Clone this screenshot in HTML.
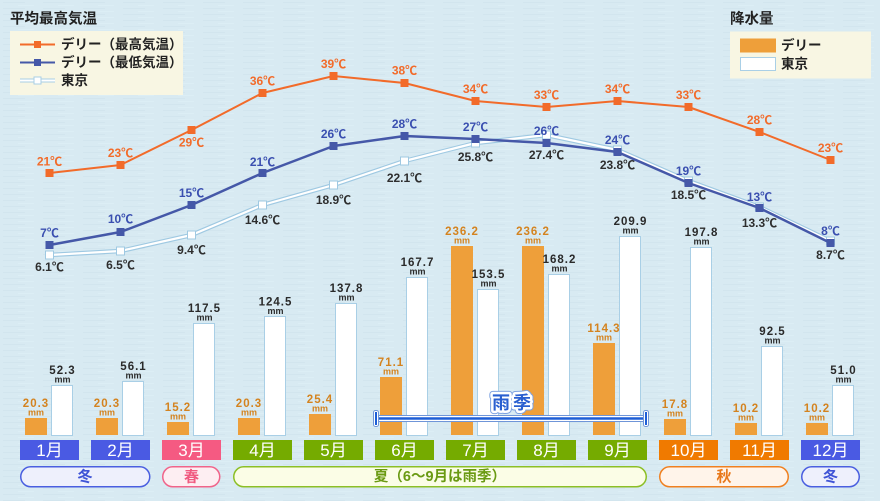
<!DOCTYPE html>
<html>
<head>
<meta charset="utf-8">
<style>
html,body{margin:0;padding:0;background:#d8eaf2;}
svg{display:block;}
text{font-family:"Liberation Sans","Noto Sans CJK JP",sans-serif;}
</style>
</head>
<body>
<svg width="880" height="501" viewBox="0 0 880 501" xmlns="http://www.w3.org/2000/svg">
<defs>
<pattern id="bg" width="40" height="6" patternUnits="userSpaceOnUse">
<rect width="40" height="6" fill="#d8eaf2"/>
<rect x="3" y="2" width="22" height="1" fill="#d2e5ee"/>
<rect x="18" y="5" width="16" height="1" fill="#dceef5"/>
</pattern>
</defs>
<rect width="880" height="501" fill="url(#bg)"/>

<!-- Left legend -->
<text x="10" y="19.5" font-size="14.5" font-weight="bold" fill="#222" dominant-baseline="central">平均最高気温</text>
<rect x="10" y="31" width="173" height="64" fill="#f8f6e3"/>
<line x1="20" y1="44.5" x2="55" y2="44.5" stroke="#f26b2a" stroke-width="2"/>
<rect x="34" y="41" width="7" height="7" fill="#f26b2a"/>
<text x="61" y="44.5" font-size="13.5" font-weight="bold" fill="#222" dominant-baseline="central">デリー（最高気温）</text>
<line x1="20" y1="62.5" x2="55" y2="62.5" stroke="#4558a8" stroke-width="2"/>
<rect x="34" y="59" width="7" height="7" fill="#4558a8"/>
<text x="61" y="62.5" font-size="13.5" font-weight="bold" fill="#222" dominant-baseline="central">デリー（最低気温）</text>
<line x1="20" y1="80.5" x2="55" y2="80.5" stroke="#a9cfe6" stroke-width="4"/>
<line x1="20" y1="80.5" x2="55" y2="80.5" stroke="#fff" stroke-width="2"/>
<rect x="34" y="77" width="7" height="7" fill="#fff" stroke="#a9cfe6" stroke-width="1"/>
<text x="61" y="80.5" font-size="13.5" font-weight="bold" fill="#222" dominant-baseline="central">東京</text>

<!-- Right legend -->
<text x="730" y="19.5" font-size="14.5" font-weight="bold" fill="#222" dominant-baseline="central">降水量</text>
<rect x="730" y="31.5" width="141" height="47" fill="#f8f6e3"/>
<rect x="740" y="38.5" width="36" height="14" fill="#ee9f3a"/>
<text x="781" y="45.5" font-size="13.5" font-weight="bold" fill="#222" dominant-baseline="central">デリー</text>
<rect x="740.5" y="57.5" width="35" height="13" fill="#fff" stroke="#a9cfe6" stroke-width="1"/>
<text x="781" y="64" font-size="13.5" font-weight="bold" fill="#222" dominant-baseline="central">東京</text>

<!-- Bars: Delhi (orange) -->
<g fill="#ee9f3a">
<rect x="25" y="418" width="22" height="17"/>
<rect x="96" y="418" width="22" height="17"/>
<rect x="167" y="422" width="22" height="13"/>
<rect x="238" y="418" width="22" height="17"/>
<rect x="309" y="414" width="22" height="21"/>
<rect x="380" y="377" width="22" height="58"/>
<rect x="451" y="246" width="22" height="189"/>
<rect x="522" y="246" width="22" height="189"/>
<rect x="593" y="343" width="22" height="92"/>
<rect x="664" y="419" width="22" height="16"/>
<rect x="735" y="423" width="22" height="12"/>
<rect x="806" y="423" width="22" height="12"/>
</g>
<!-- Bars: Tokyo (white) -->
<g fill="#fff" stroke="#a9cfe6" stroke-width="1">
<rect x="51.5" y="385.5" width="21" height="50"/>
<rect x="122.5" y="381.5" width="21" height="54"/>
<rect x="193.5" y="323.5" width="21" height="112"/>
<rect x="264.5" y="316.5" width="21" height="119"/>
<rect x="335.5" y="303.5" width="21" height="132"/>
<rect x="406.5" y="277.5" width="21" height="158"/>
<rect x="477.5" y="289.5" width="21" height="146"/>
<rect x="548.5" y="274.5" width="21" height="161"/>
<rect x="619.5" y="236.5" width="21" height="199"/>
<rect x="690.5" y="247.5" width="21" height="188"/>
<rect x="761.5" y="346.5" width="21" height="89"/>
<rect x="832.5" y="385.5" width="21" height="50"/>
</g>

<!-- Bar labels Delhi -->
<g fill="#d4831f" font-weight="bold" text-anchor="middle">
<g font-size="11.5" letter-spacing="1">
<text x="36" y="404" dominant-baseline="central">20.3</text>
<text x="107" y="404" dominant-baseline="central">20.3</text>
<text x="178" y="408" dominant-baseline="central">15.2</text>
<text x="249" y="404" dominant-baseline="central">20.3</text>
<text x="320" y="400" dominant-baseline="central">25.4</text>
<text x="391" y="363" dominant-baseline="central">71.1</text>
<text x="462" y="232" dominant-baseline="central">236.2</text>
<text x="533" y="232" dominant-baseline="central">236.2</text>
<text x="604" y="329" dominant-baseline="central">114.3</text>
<text x="675" y="405" dominant-baseline="central">17.8</text>
<text x="746" y="409" dominant-baseline="central">10.2</text>
<text x="817" y="409" dominant-baseline="central">10.2</text>
</g>
<g font-size="9">
<text x="36" y="412.5" dominant-baseline="central">mm</text>
<text x="107" y="412.5" dominant-baseline="central">mm</text>
<text x="178" y="416.5" dominant-baseline="central">mm</text>
<text x="249" y="412.5" dominant-baseline="central">mm</text>
<text x="320" y="408.5" dominant-baseline="central">mm</text>
<text x="391" y="371.5" dominant-baseline="central">mm</text>
<text x="462" y="240.5" dominant-baseline="central">mm</text>
<text x="533" y="240.5" dominant-baseline="central">mm</text>
<text x="604" y="337.5" dominant-baseline="central">mm</text>
<text x="675" y="413.5" dominant-baseline="central">mm</text>
<text x="746" y="417.5" dominant-baseline="central">mm</text>
<text x="817" y="417.5" dominant-baseline="central">mm</text>
</g>
</g>
<!-- Bar labels Tokyo -->
<g fill="#2a2a2a" font-weight="bold" text-anchor="middle">
<g font-size="11.5" letter-spacing="1">
<text x="62.5" y="371" dominant-baseline="central">52.3</text>
<text x="133.5" y="367" dominant-baseline="central">56.1</text>
<text x="204.5" y="309" dominant-baseline="central">117.5</text>
<text x="275.5" y="302.5" dominant-baseline="central">124.5</text>
<text x="346.5" y="289" dominant-baseline="central">137.8</text>
<text x="417.5" y="263" dominant-baseline="central">167.7</text>
<text x="488.5" y="275" dominant-baseline="central">153.5</text>
<text x="559.5" y="260" dominant-baseline="central">168.2</text>
<text x="630.5" y="222" dominant-baseline="central">209.9</text>
<text x="701.5" y="233" dominant-baseline="central">197.8</text>
<text x="772.5" y="332" dominant-baseline="central">92.5</text>
<text x="843.5" y="371" dominant-baseline="central">51.0</text>
</g>
<g font-size="9">
<text x="62.5" y="379.5" dominant-baseline="central">mm</text>
<text x="133.5" y="375.5" dominant-baseline="central">mm</text>
<text x="204.5" y="317.5" dominant-baseline="central">mm</text>
<text x="275.5" y="311" dominant-baseline="central">mm</text>
<text x="346.5" y="297.5" dominant-baseline="central">mm</text>
<text x="417.5" y="271.5" dominant-baseline="central">mm</text>
<text x="488.5" y="283.5" dominant-baseline="central">mm</text>
<text x="559.5" y="268.5" dominant-baseline="central">mm</text>
<text x="630.5" y="230.5" dominant-baseline="central">mm</text>
<text x="701.5" y="241.5" dominant-baseline="central">mm</text>
<text x="772.5" y="340.5" dominant-baseline="central">mm</text>
<text x="843.5" y="379.5" dominant-baseline="central">mm</text>
</g>
</g>

<!-- Rainy season bracket -->
<g>
<line x1="377" y1="418.5" x2="645" y2="418.5" stroke="#6f95d8" stroke-width="7"/>
<line x1="377" y1="418.5" x2="645" y2="418.5" stroke="#fff" stroke-width="5"/>
<line x1="377" y1="418.5" x2="645" y2="418.5" stroke="#1e5ed6" stroke-width="2.5"/>
<rect x="373.5" y="410.5" width="5" height="16" rx="2" fill="#fff" stroke="#6f95d8" stroke-width="1"/>
<rect x="375" y="412" width="2" height="13" fill="#1e5ed6"/>
<rect x="643.5" y="410.5" width="5" height="16" rx="2" fill="#fff" stroke="#6f95d8" stroke-width="1"/>
<rect x="645" y="412" width="2" height="13" fill="#1e5ed6"/>
<text x="513" y="403" font-size="18" font-weight="bold" text-anchor="middle" letter-spacing="3" dominant-baseline="central" fill="none" stroke="#7ea2e0" stroke-width="7" stroke-linejoin="round">雨季</text>
<text x="513" y="403" font-size="18" font-weight="bold" text-anchor="middle" letter-spacing="3" dominant-baseline="central" fill="none" stroke="#fff" stroke-width="5" stroke-linejoin="round">雨季</text>
<text x="513" y="403" font-size="18" font-weight="bold" text-anchor="middle" letter-spacing="3" dominant-baseline="central" fill="#2a5fd0">雨季</text>
</g>

<!-- Month boxes -->
<g>
<rect x="20" y="440" width="59" height="20" fill="#4a5ae3"/>
<rect x="91" y="440" width="59" height="20" fill="#4a5ae3"/>
<rect x="162" y="440" width="59" height="20" fill="#f55a82"/>
<rect x="233" y="440" width="59" height="20" fill="#75ab00"/>
<rect x="304" y="440" width="59" height="20" fill="#75ab00"/>
<rect x="375" y="440" width="59" height="20" fill="#75ab00"/>
<rect x="446" y="440" width="59" height="20" fill="#75ab00"/>
<rect x="517" y="440" width="59" height="20" fill="#75ab00"/>
<rect x="588" y="440" width="59" height="20" fill="#75ab00"/>
<rect x="659" y="440" width="59" height="20" fill="#f07a00"/>
<rect x="730" y="440" width="59" height="20" fill="#f07a00"/>
<rect x="801" y="440" width="59" height="20" fill="#4a5ae3"/>
</g>
<g fill="#fff" font-size="17" text-anchor="middle">
<text x="49.5" y="450.5" dominant-baseline="central">1月</text>
<text x="120.5" y="450.5" dominant-baseline="central">2月</text>
<text x="191.5" y="450.5" dominant-baseline="central">3月</text>
<text x="262.5" y="450.5" dominant-baseline="central">4月</text>
<text x="333.5" y="450.5" dominant-baseline="central">5月</text>
<text x="404.5" y="450.5" dominant-baseline="central">6月</text>
<text x="475.5" y="450.5" dominant-baseline="central">7月</text>
<text x="546.5" y="450.5" dominant-baseline="central">8月</text>
<text x="617.5" y="450.5" dominant-baseline="central">9月</text>
<text x="688.5" y="450.5" dominant-baseline="central">10月</text>
<text x="759.5" y="450.5" dominant-baseline="central">11月</text>
<text x="830.5" y="450.5" dominant-baseline="central">12月</text>
</g>

<!-- Season pills -->
<rect x="20.75" y="466.75" width="129" height="20" rx="10" fill="#eef0fc" stroke="#4a5fe0" stroke-width="1.5"/>
<text x="85" y="477" font-size="15" font-weight="bold" fill="#3f54d6" text-anchor="middle" dominant-baseline="central">冬</text>
<rect x="162.75" y="466.75" width="57" height="20" rx="10" fill="#fdeef2" stroke="#f0648a" stroke-width="1.5"/>
<text x="191.5" y="477" font-size="15" font-weight="bold" fill="#f05a80" text-anchor="middle" dominant-baseline="central">春</text>
<rect x="233.75" y="466.75" width="412.5" height="20" rx="10" fill="#fbfde6" stroke="#8cbf26" stroke-width="1.5"/>
<text x="440" y="477" font-size="14.5" font-weight="bold" fill="#6a9a12" text-anchor="middle" dominant-baseline="central">夏（6〜9月は雨季）</text>
<rect x="659.75" y="466.75" width="128.5" height="20" rx="10" fill="#fff4ea" stroke="#f08020" stroke-width="1.5"/>
<text x="724" y="477" font-size="15" font-weight="bold" fill="#e8781a" text-anchor="middle" dominant-baseline="central">秋</text>
<rect x="801.75" y="466.75" width="57.5" height="20" rx="10" fill="#eef0fc" stroke="#4a5fe0" stroke-width="1.5"/>
<text x="830.5" y="477" font-size="15" font-weight="bold" fill="#3f54d6" text-anchor="middle" dominant-baseline="central">冬</text>

<!-- Tokyo line -->
<polyline points="49.5,255 120.5,251 191.5,235 262.5,205 333.5,185 404.5,161 475.5,143 546.5,135 617.5,150 688.5,181 759.5,207 830.5,241" fill="none" stroke="#9fc9e2" stroke-width="4.5" stroke-linejoin="round"/>
<polyline points="49.5,255 120.5,251 191.5,235 262.5,205 333.5,185 404.5,161 475.5,143 546.5,135 617.5,150 688.5,181 759.5,207 830.5,241" fill="none" stroke="#fff" stroke-width="2.2" stroke-linejoin="round"/>
<g fill="#fff" stroke="#9fc9e2" stroke-width="1">
<rect x="45.5" y="251" width="8" height="8"/>
<rect x="116.5" y="247" width="8" height="8"/>
<rect x="187.5" y="231" width="8" height="8"/>
<rect x="258.5" y="201" width="8" height="8"/>
<rect x="329.5" y="181" width="8" height="8"/>
<rect x="400.5" y="157" width="8" height="8"/>
<rect x="471.5" y="139" width="8" height="8"/>
<rect x="542.5" y="131" width="8" height="8"/>
<rect x="613.5" y="146" width="8" height="8"/>
<rect x="684.5" y="177" width="8" height="8"/>
<rect x="755.5" y="203" width="8" height="8"/>
<rect x="826.5" y="237" width="8" height="8"/>
</g>

<!-- Delhi min line -->
<polyline points="49.5,245 120.5,232 191.5,205 262.5,173 333.5,146 404.5,136 475.5,139 546.5,143 617.5,152 688.5,183 759.5,208 830.5,243" fill="none" stroke="#4558a8" stroke-width="2.5" stroke-linejoin="round"/>
<g fill="#4558a8">
<rect x="45.5" y="241" width="8" height="8"/>
<rect x="116.5" y="228" width="8" height="8"/>
<rect x="187.5" y="201" width="8" height="8"/>
<rect x="258.5" y="169" width="8" height="8"/>
<rect x="329.5" y="142" width="8" height="8"/>
<rect x="400.5" y="132" width="8" height="8"/>
<rect x="471.5" y="135" width="8" height="8"/>
<rect x="542.5" y="139" width="8" height="8"/>
<rect x="613.5" y="148" width="8" height="8"/>
<rect x="684.5" y="179" width="8" height="8"/>
<rect x="755.5" y="204" width="8" height="8"/>
<rect x="826.5" y="239" width="8" height="8"/>
</g>

<!-- Delhi max line -->
<polyline points="49.5,173 120.5,165 191.5,130 262.5,93 333.5,76 404.5,83 475.5,101 546.5,107 617.5,101 688.5,107 759.5,132 830.5,160" fill="none" stroke="#f26b2a" stroke-width="2" stroke-linejoin="round"/>
<g fill="#f26b2a">
<rect x="45.5" y="169" width="8" height="8"/>
<rect x="116.5" y="161" width="8" height="8"/>
<rect x="187.5" y="126" width="8" height="8"/>
<rect x="258.5" y="89" width="8" height="8"/>
<rect x="329.5" y="72" width="8" height="8"/>
<rect x="400.5" y="79" width="8" height="8"/>
<rect x="471.5" y="97" width="8" height="8"/>
<rect x="542.5" y="103" width="8" height="8"/>
<rect x="613.5" y="97" width="8" height="8"/>
<rect x="684.5" y="103" width="8" height="8"/>
<rect x="755.5" y="128" width="8" height="8"/>
<rect x="826.5" y="156" width="8" height="8"/>
</g>

<!-- Temperature labels -->
<g font-size="12" font-weight="bold" text-anchor="middle" fill="#f26b2a">
<text x="49.5" y="161.5" dominant-baseline="central">21℃</text>
<text x="120.5" y="153" dominant-baseline="central">23℃</text>
<text x="191.5" y="142.5" dominant-baseline="central">29℃</text>
<text x="262.5" y="81" dominant-baseline="central">36℃</text>
<text x="333.5" y="64" dominant-baseline="central">39℃</text>
<text x="404.5" y="70.5" dominant-baseline="central">38℃</text>
<text x="475.5" y="89" dominant-baseline="central">34℃</text>
<text x="546.5" y="95" dominant-baseline="central">33℃</text>
<text x="617.5" y="89" dominant-baseline="central">34℃</text>
<text x="688.5" y="95" dominant-baseline="central">33℃</text>
<text x="759.5" y="120" dominant-baseline="central">28℃</text>
<text x="830.5" y="148" dominant-baseline="central">23℃</text>
</g>
<g font-size="12" font-weight="bold" text-anchor="middle" fill="#3a4fb0">
<text x="49.5" y="233" dominant-baseline="central">7℃</text>
<text x="120.5" y="219" dominant-baseline="central">10℃</text>
<text x="191.5" y="193" dominant-baseline="central">15℃</text>
<text x="262.5" y="162" dominant-baseline="central">21℃</text>
<text x="333.5" y="134" dominant-baseline="central">26℃</text>
<text x="404.5" y="124" dominant-baseline="central">28℃</text>
<text x="475.5" y="127" dominant-baseline="central">27℃</text>
<text x="546.5" y="131" dominant-baseline="central">26℃</text>
<text x="617.5" y="140" dominant-baseline="central">24℃</text>
<text x="688.5" y="171" dominant-baseline="central">19℃</text>
<text x="759.5" y="197" dominant-baseline="central">13℃</text>
<text x="830.5" y="231" dominant-baseline="central">8℃</text>
</g>
<g font-size="12" font-weight="bold" text-anchor="middle" fill="#2e2e2e">
<text x="49.5" y="267" dominant-baseline="central">6.1℃</text>
<text x="120.5" y="265" dominant-baseline="central">6.5℃</text>
<text x="191.5" y="250" dominant-baseline="central">9.4℃</text>
<text x="262.5" y="220" dominant-baseline="central">14.6℃</text>
<text x="333.5" y="200" dominant-baseline="central">18.9℃</text>
<text x="404.5" y="178" dominant-baseline="central">22.1℃</text>
<text x="475.5" y="157" dominant-baseline="central">25.8℃</text>
<text x="546.5" y="155" dominant-baseline="central">27.4℃</text>
<text x="617.5" y="165" dominant-baseline="central">23.8℃</text>
<text x="688.5" y="195" dominant-baseline="central">18.5℃</text>
<text x="759.5" y="223" dominant-baseline="central">13.3℃</text>
<text x="830.5" y="255" dominant-baseline="central">8.7℃</text>
</g>
</svg>
</body>
</html>
